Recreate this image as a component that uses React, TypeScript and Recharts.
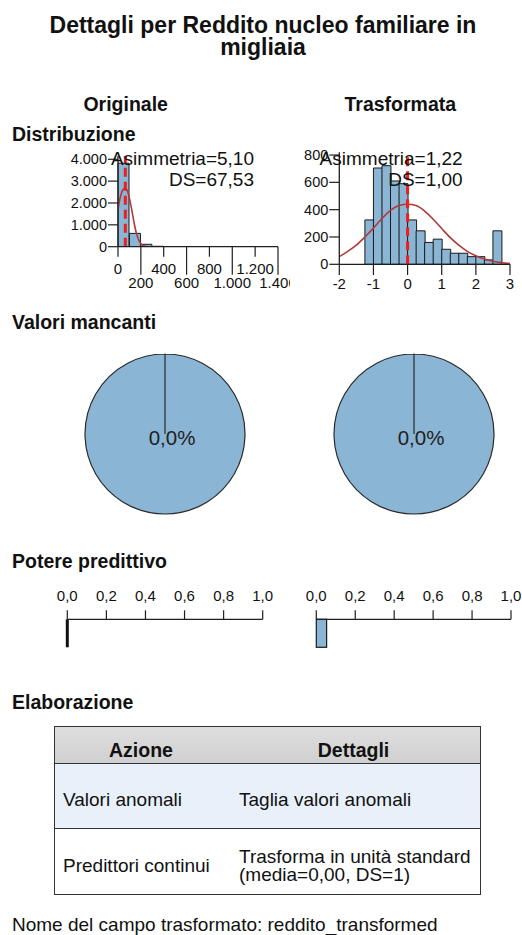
import React from "react";
import {
  ComposedChart, Bar, Line, XAxis, YAxis, ReferenceLine, PieChart, Pie, Cell, BarChart
} from "recharts";

const FONT = "'Liberation Sans', Arial, sans-serif";
const BLUE = "#8bb5d4";
const AX = "#1f1f1f";
const CURVE = "#b03a3a";
const MEAN = "#ec1f1b";

// Distribuzione - originale (reddito in migliaia, classi da 100)
const origBinStart = [0, 100, 200, 300, 400, 500, 600, 700, 800, 900, 1000, 1100, 1200, 1300];
const origCounts = [3820, 610, 110, 18, 5, 2, 1, 1, 0, 0, 0, 0, 0, 0];
const origCurveX = [0, 15, 30, 45, 64, 85, 105, 125, 145, 165, 185, 205, 225, 250, 300, 1400];
const origCurveY = [1680, 2150, 2450, 2620, 2670, 2520, 2100, 1550, 980, 540, 260, 110, 40, 10, 0, 0];
const origMean = 64;
const origXTicks = [0, 200, 400, 600, 800, 1000, 1200, 1400];
const origYTicks = [0, 1000, 2000, 3000, 4000];

// Distribuzione - trasformata (classi da 0,25)
const transBinStart = [-2, -1.75, -1.5, -1.25, -1, -0.75, -0.5, -0.25, 0, 0.25, 0.5, 0.75, 1, 1.25, 1.5, 1.75, 2, 2.25, 2.5, 2.75];
const transCounts = [0, 0, 0, 325, 705, 722, 610, 590, 325, 245, 160, 184, 110, 81, 81, 56, 56, 32, 245, 0];
const transCurveX = [-2, -1.75, -1.5, -1.25, -1, -0.75, -0.5, -0.25, 0, 0.25, 0.5, 0.75, 1, 1.25, 1.5, 1.75, 2, 2.25, 2.5, 2.75, 3];
const transCurveY = [56, 95, 140, 200, 265, 335, 395, 430, 440, 430, 390, 330, 262, 195, 140, 95, 62, 38, 22, 12, 6];
const transMean = 0;
const transXTicks = [-2, -1, 0, 1, 2, 3];
const transYTicks = [0, 200, 400, 600, 800];

const skewness = [5.1, 1.22];
const stdDev = [67.53, 1.0];
const missingPct = [0.0, 0.0];
const predictivePower = [0.0, 0.053];
const powerTicks = [0, 0.2, 0.4, 0.6, 0.8, 1.0];

const actions = ["Valori anomali", "Predittori continui"];
const details = [["Taglia valori anomali"], ["Trasforma in unità standard", "(media=0,00, DS=1)"]];

const thousands = (v: number) => String(v).replace(/\B(?=(\d{3})+(?!\d))/g, ".");
const dec = (v: number, d: number) => v.toFixed(d).replace(".", ",");

const OrigTick = (p: any) => {
  const long = p.payload.value % 400 === 200;
  return (
    <g>
      <line x1={p.x} x2={p.x} y1={p.y} y2={p.y + (long ? 28 : 10)} stroke={AX} strokeWidth={1.2} />
      <text x={p.x} y={p.y + (long ? 41.3 : 27.6)} textAnchor="middle" fontSize={15} fontFamily={FONT} fill="#111">
        {thousands(p.payload.value)}
      </text>
    </g>
  );
};

const TransTick = (p: any) => (
  <g>
    <line x1={p.x} x2={p.x} y1={p.y} y2={p.y + 10.7} stroke={AX} strokeWidth={1.2} />
    <text x={p.x} y={p.y + 24.7} textAnchor="middle" fontSize={15} fontFamily={FONT} fill="#111">
      {p.payload.value}
    </text>
  </g>
);

function Histogram({ starts, counts, cx, cy, mean, xDomain, yDomain, xTicks, yTicks, tick, width, height, margin, yWidth, xHeight }: any) {
  const bins = starts.map((s: number, i: number) => ({ bin: String(s), count: counts[i] }));
  const curve = cx.map((x: number, i: number) => ({ x, y: cy[i] }));
  return (
    <ComposedChart width={width} height={height} data={bins} margin={margin} barCategoryGap={0} barGap={0}>
      <XAxis xAxisId="bins" dataKey="bin" type="category" orientation="top" hide />
      <XAxis
        xAxisId="num" dataKey="x" type="number" domain={xDomain} ticks={xTicks} interval={0}
        allowDataOverflow height={xHeight} tickSize={0} tickMargin={0} tickLine={false}
        axisLine={{ stroke: AX, strokeWidth: 1.3 }} tick={tick}
      />
      <YAxis
        domain={yDomain} ticks={yTicks} interval={0} allowDataOverflow width={yWidth}
        tickSize={10} tickMargin={1} tickFormatter={thousands}
        tick={{ fontSize: 14.5, fill: "#111", fontFamily: FONT }}
        axisLine={{ stroke: AX, strokeWidth: 1.3 }} tickLine={{ stroke: AX, strokeWidth: 1.2 }}
      />
      <Bar xAxisId="bins" dataKey="count" fill={BLUE} stroke="#1a1a1a" strokeWidth={1} isAnimationActive={false} />
      <Line xAxisId="num" data={curve} dataKey="y" type="monotone" stroke={CURVE} strokeWidth={1.6} dot={false} activeDot={false} isAnimationActive={false} />
      <ReferenceLine xAxisId="num" x={mean} stroke={MEAN} strokeWidth={3} strokeDasharray="9 5" />
    </ComposedChart>
  );
}

function MissingPie({ pct }: { pct: number }) {
  const data = [{ name: "Mancanti", value: pct }, { name: "Validi", value: 100 - pct }];
  const label = (p: any) =>
    p.index === 1 ? (
      <text x={p.cx + 7} y={p.cy + 11} textAnchor="middle" fontSize={20.5} fontFamily={FONT} fill="#222">
        {dec(pct, 1)}%
      </text>
    ) : <g />;
  return (
    <PieChart width={170} height={170} margin={{ top: 0, right: 0, bottom: 0, left: 0 }}>
      <Pie
        data={data} dataKey="value" cx={85} cy={85} outerRadius={80} startAngle={90} endAngle={-270}
        stroke="#2a2a2a" strokeWidth={1.2} label={label} labelLine={false} isAnimationActive={false}
      >
        {data.map((d, i) => <Cell key={i} fill={BLUE} />)}
      </Pie>
    </PieChart>
  );
}

const PowerBar = (p: any) => {
  if (!(p.width >= 1)) {
    return <line x1={p.x} x2={p.x} y1={p.y} y2={p.y + p.height} stroke="#111" strokeWidth={3} />;
  }
  return <rect x={p.x} y={p.y} width={p.width} height={p.height} fill={BLUE} stroke="#1a1a1a" strokeWidth={1.2} />;
};

function PowerChart({ value, width, margin }: any) {
  return (
    <BarChart width={width} height={80} layout="vertical" data={[{ name: "p", value }]} margin={margin} barCategoryGap={0}>
      <XAxis
        type="number" orientation="top" domain={[0, 1]} ticks={powerTicks} interval={0} height={30}
        tickSize={9} tickMargin={9} tickFormatter={(v: number) => dec(v, 1)}
        tick={{ fontSize: 15, fill: "#111", fontFamily: FONT }}
        axisLine={{ stroke: AX, strokeWidth: 1.3 }} tickLine={{ stroke: AX, strokeWidth: 1.2 }}
      />
      <YAxis type="category" dataKey="name" hide />
      <Bar dataKey="value" shape={PowerBar} isAnimationActive={false} />
    </BarChart>
  );
}

const abs = (left: number, top: number): React.CSSProperties => ({ position: "absolute", left, top });

function Heading({ children, left, baseline }: any) {
  return (
    <div style={{ ...abs(left, baseline - 16.5), fontSize: 19.5, fontWeight: 700, lineHeight: 1, whiteSpace: "nowrap" }}>
      {children}
    </div>
  );
}

export default function App() {
  return (
    <div style={{ position: "absolute", left: 0, top: 0, width: 522, height: 935, background: "#fff", fontFamily: FONT, color: "#111", overflow: "hidden" }}>
      <div style={{ ...abs(13, 14.3), width: 500, textAlign: "center", fontSize: 23, fontWeight: 700, lineHeight: "22px" }}>
        Dettagli per Reddito nucleo familiare in migliaia
      </div>

      <div style={{ ...abs(25.7, 95.2), width: 200, textAlign: "center", fontSize: 19.5, fontWeight: 700, lineHeight: 1 }}>Originale</div>
      <div style={{ ...abs(300.3, 95.2), width: 200, textAlign: "center", fontSize: 19.5, fontWeight: 700, lineHeight: 1 }}>Trasformata</div>

      <Heading left={12} baseline={141}>Distribuzione</Heading>

      <div style={abs(0, 140)}>
        <Histogram
          starts={origBinStart} counts={origCounts} cx={origCurveX} cy={origCurveY} mean={origMean}
          xDomain={[0, 1400]} yDomain={[0, 4150]} xTicks={origXTicks} yTicks={origYTicks} tick={OrigTick}
          width={290} height={160} margin={{ top: 16, right: 12, bottom: 13.3, left: 0 }} yWidth={118} xHeight={40}
        />
      </div>
      <div style={abs(290, 140)}>
        <Histogram
          starts={transBinStart} counts={transCounts} cx={transCurveX} cy={transCurveY} mean={transMean}
          xDomain={[-2, 3]} yDomain={[0, 820]} xTicks={transXTicks} yTicks={transYTicks} tick={TransTick}
          width={232} height={160} margin={{ top: 12.3, right: 12, bottom: 5.7, left: 0 }} yWidth={49.3} xHeight={30}
        />
      </div>

      {[0, 1].map((i) => (
        <div key={i} style={{ ...abs(i === 0 ? 54 : 262.7, 147.6), width: 200, textAlign: "right", fontSize: 19, lineHeight: "21.7px" }}>
          Asimmetria={dec(skewness[i], 2)}
          <br />
          DS={dec(stdDev[i], 2)}
        </div>
      ))}

      <Heading left={12} baseline={329}>Valori mancanti</Heading>
      <div style={abs(80, 349.3)}><MissingPie pct={missingPct[0]} /></div>
      <div style={abs(329, 349.3)}><MissingPie pct={missingPct[1]} /></div>

      <Heading left={12} baseline={568}>Potere predittivo</Heading>
      <div style={abs(40, 580)}>
        <PowerChart value={predictivePower[0]} width={240} margin={{ top: 9.3, right: 17.3, bottom: 12.7, left: 27.3 }} />
      </div>
      <div style={abs(290, 580)}>
        <PowerChart value={predictivePower[1]} width={232} margin={{ top: 9.3, right: 11, bottom: 12.7, left: 26.3 }} />
      </div>

      <Heading left={12} baseline={709}>Elaborazione</Heading>
      <div style={{ ...abs(54, 726), width: 427, height: 169, border: "1.5px solid #333", boxSizing: "border-box", fontSize: 19 }}>
        <div style={{ display: "flex", height: 37, boxSizing: "border-box", borderBottom: "1.5px solid #333", background: "linear-gradient(#dedede, #d0d0d0)", fontWeight: 700, fontSize: 19.5, alignItems: "center", paddingTop: 10 }}>
          <div style={{ width: 172, textAlign: "center" }}>Azione</div>
          <div style={{ flex: 1, textAlign: "center" }}>Dettagli</div>
        </div>
        {actions.map((a, i) => (
          <div key={a} style={{ display: "flex", height: i === 0 ? 65 : 64, boxSizing: "border-box", borderBottom: i === 0 ? "1.5px solid #333" : "none", background: i === 0 ? "#e8f0fa" : "#fff", alignItems: "center", paddingTop: i === 0 ? 8 : 10, lineHeight: "18.5px" }}>
            <div style={{ width: 172, paddingLeft: 8, boxSizing: "border-box" }}>{a}</div>
            <div style={{ flex: 1, paddingLeft: 12 }}>
              {details[i].map((d, j) => <div key={j}>{d}</div>)}
            </div>
          </div>
        ))}
      </div>

      <div style={{ ...abs(12, 914.9), fontSize: 19, lineHeight: 1, whiteSpace: "nowrap" }}>
        Nome del campo trasformato: reddito_transformed
      </div>
    </div>
  );
}
